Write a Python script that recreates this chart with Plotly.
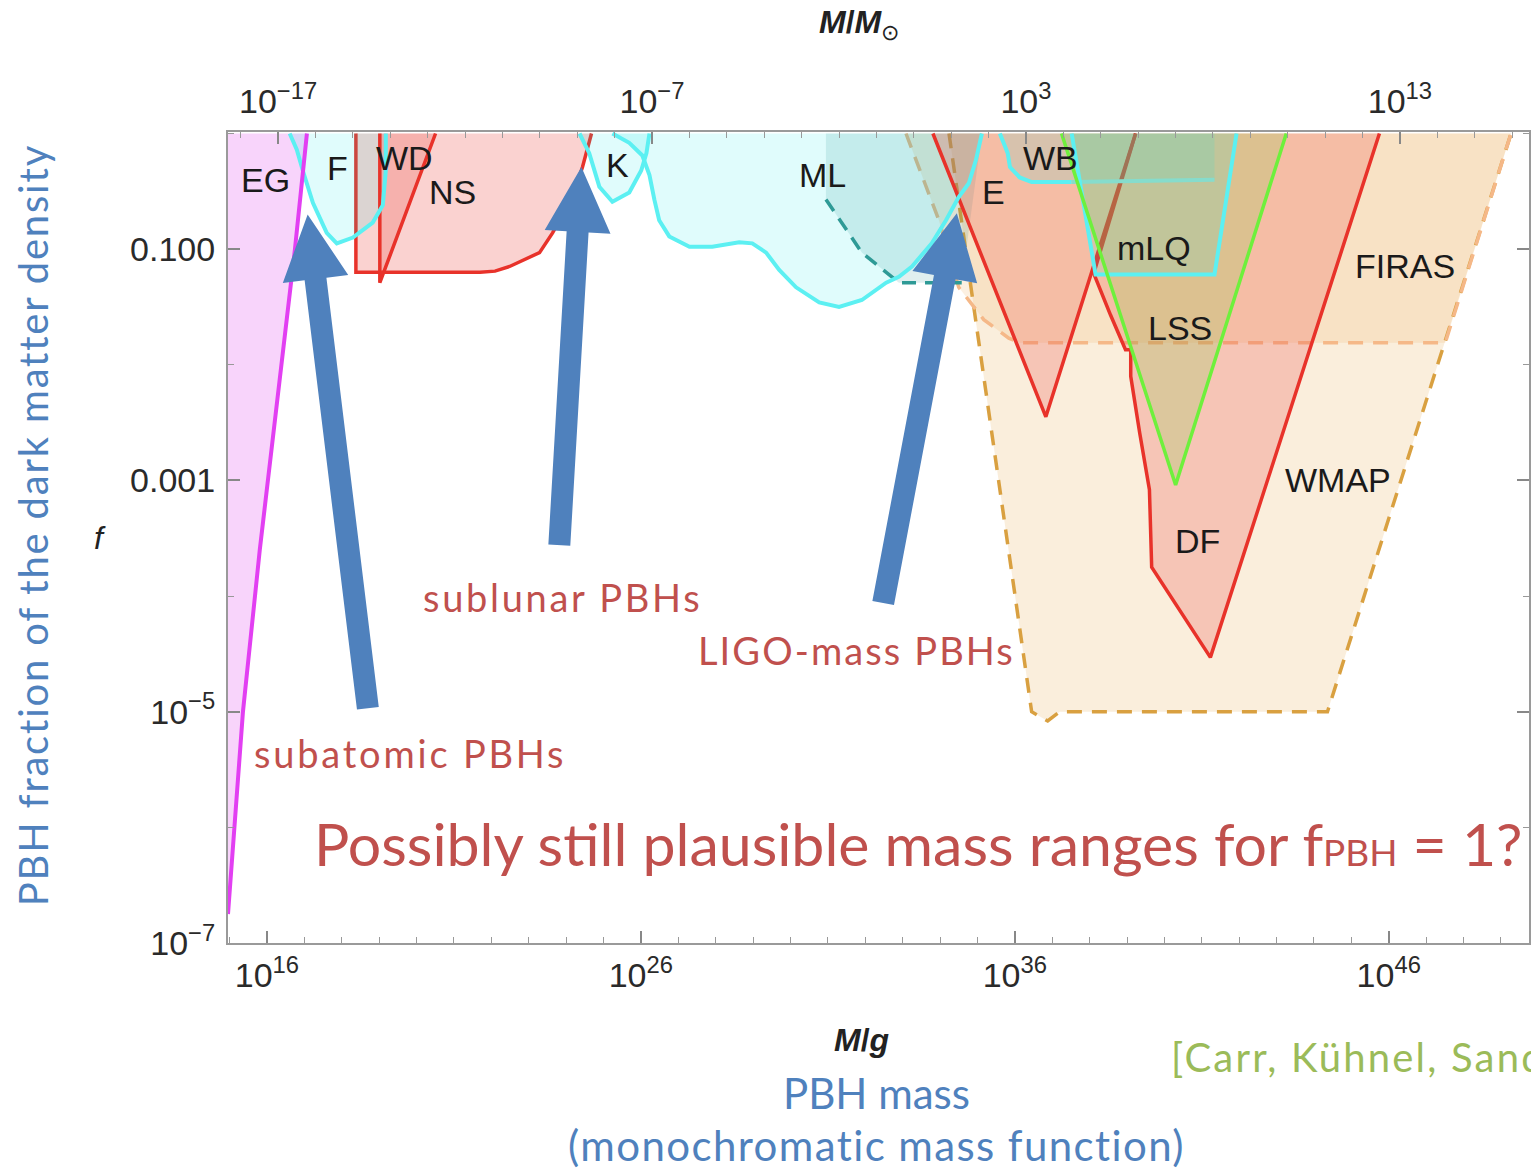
import numpy as np
import plotly.graph_objects as go

LOG_MSUN = 33.2986  # log10(M_sun / g)

# ---------------- axis set-up (log10 units) ----------------
X_RANGE = [14.96, 49.75]
Y_RANGE = [-7.0, 0.013]
xg_major = [16, 26, 36, 46]
xsun_major = [-17, -7, 3, 13]
y_major = [-1, -3, -5, -7]
y_major_text = ["0.100", "0.001", "10<sup>−5</sup>", "10<sup>−7</sup>"]

# ---------------- constraint boundaries: log10(M/g), log10(f) ----------------
eg_x = [14.96, 15.17, 15.36, 15.81, 16.29, 16.75, 17.07]
eg_y = [-6.75, -5.86, -5.00, -3.60, -2.30, -1.00, 0.00]

f_x = [16.61, 16.80, 16.96, 17.23, 17.60, 17.87, 18.30, 18.83, 19.10, 19.18, 19.18]
f_y = [0.00, -0.14, -0.32, -0.60, -0.86, -0.95, -0.90, -0.77, -0.62, -0.32, 0.00]

ns_x = [18.38, 18.38, 21.70, 22.10, 22.49, 23.29, 23.64, 24.17, 24.44, 24.68]
ns_y = [0.00, -1.20, -1.20, -1.19, -1.15, -1.03, -0.86, -0.55, -0.29, 0.00]

wd_x = [19.02, 19.02, 20.51]
wd_y = [0.00, -1.29, 0.00]

k_x = [24.36, 24.62, 24.89, 25.24, 25.69, 26.01, 26.15, 26.23]
k_y = [0.00, -0.17, -0.46, -0.59, -0.51, -0.32, -0.17, 0.00]

ml_x = [25.24, 25.69, 26.04, 26.23, 26.36, 26.49, 26.76, 27.30, 27.91, 28.63, 28.98, 29.35, 29.70,
        30.15, 30.77, 31.30, 31.91, 32.56, 32.90, 33.25, 33.78, 34.16, 34.50, 34.77, 34.96, 35.12]
ml_y = [0.00, -0.08, -0.19, -0.36, -0.57, -0.75, -0.89, -0.98, -0.98, -0.94, -0.95, -1.03, -1.18,
        -1.33, -1.46, -1.50, -1.44, -1.29, -1.24, -1.15, -0.95, -0.75, -0.55, -0.43, -0.23, 0.00]

mlt_x = [30.95, 30.95, 31.91, 32.90, 34.58, 35.12]
mlt_y = [0.00, -0.57, -1.03, -1.29, -1.29, 0.00]

wmap_x = [34.24, 36.45, 36.88, 37.20, 44.36, 49.27]
wmap_y = [0.00, -5.00, -5.08, -5.00, -5.00, 0.00]

firas_x = [33.09, 33.97, 34.50, 35.17, 35.84, 36.13, 47.51, 49.27]
firas_y = [0.00, -0.75, -1.33, -1.61, -1.77, -1.81, -1.81, 0.00]

e_x = [33.81, 36.83, 39.23]
e_y = [0.00, -2.45, 0.00]

df_x = [39.23, 38.11, 38.56, 38.96, 39.10, 39.10, 39.34, 39.60, 39.66, 41.23, 45.75]
df_y = [0.00, -1.21, -1.57, -1.87, -1.87, -2.10, -2.59, -3.08, -3.75, -4.53, 0.00]

lss_x = [37.25, 40.30, 43.26]
lss_y = [0.00, -3.04, 0.00]

wb_x = [35.60, 35.81, 35.87, 36.13, 36.45, 37.52, 41.34, 41.34]
wb_y = [0.00, -0.17, -0.29, -0.38, -0.42, -0.42, -0.40, 0.00]

mlq_x = [37.52, 38.16, 41.34, 41.93]
mlq_y = [0.00, -1.22, -1.22, 0.00]

# region labels
labels = ["EG", "F", "WD", "NS", "K", "ML", "E", "WB", "mLQ", "LSS", "FIRAS", "WMAP", "DF"]
label_x = [15.97, 17.90, 19.68, 20.97, 25.37, 30.85, 35.44, 36.96, 39.71, 40.43, 46.44, 44.65, 40.89]
label_y = [-0.40, -0.30, -0.21, -0.51, -0.27, -0.36, -0.51, -0.21, -0.99, -1.68, -1.15, -3.00, -3.52]

# highlight arrows (tail -> tip), log10 units
arrow_tail = [(18.70, -4.97), (23.82, -3.56), (32.48, -4.06)]
arrow_tip = [(17.09, -0.70), (24.41, -0.29), (34.45, -0.69)]

# ---------------- layout geometry ----------------
W, H = 1531, 1168
ML_, MR_, MT_, MB_ = 228, 0, 132, 225
PW, PH = W - ML_ - MR_, H - MT_ - MB_
KX = PW / (X_RANGE[1] - X_RANGE[0])
KY = PH / (Y_RANGE[1] - Y_RANGE[0])

RED = "#e8322a"
CYAN = "#5cf0f2"
GREEN = "#6ef03c"
MAGENTA = "#e23ff2"
GOLD = "#d9a040"
PEACH = "#f5b888"
TEAL = "#2e9a96"
BLUE = "#4f81bd"
TXTRED = "#c0504d"
TXTGREEN = "#9bbb59"

fig = go.Figure()


def P(v):
    return [10.0 ** float(a) for a in v]


def fill(xs, ys, color, close=None):
    xs = list(xs)
    ys = list(ys)
    if close is not None:
        xs.append(close[0])
        ys.append(close[1])
    fig.add_trace(go.Scatter(x=P(xs), y=P(ys), mode="lines", fill="toself", fillcolor=color,
                             line=dict(width=0, color=color), hoverinfo="skip", showlegend=False))


def line(xs, ys, color, width=3, dash=None):
    fig.add_trace(go.Scatter(x=P(xs), y=P(ys), mode="lines",
                             line=dict(width=width, color=color, dash=dash),
                             hoverinfo="skip", showlegend=False))


CYAN_FILL = "rgba(0,230,230,0.12)"
RED_FILL = "rgba(235,90,80,0.27)"

fill(wmap_x, wmap_y, "rgba(240,200,140,0.30)")
fill(firas_x, firas_y, "rgba(240,185,120,0.22)")
line(wmap_x, wmap_y, GOLD, 3.5, "15px,10px")
line(firas_x, firas_y, PEACH, 3.5, "15px,10px")
fill(eg_x, eg_y, "rgba(230,100,240,0.28)", close=(X_RANGE[0], 0.0))
fill(ns_x, ns_y, RED_FILL)
line(ns_x, ns_y, RED, 3.5)
fill(f_x, f_y, CYAN_FILL)
fill(k_x, k_y, CYAN_FILL)
fill(ml_x, ml_y, CYAN_FILL)
fill(mlt_x, mlt_y, "rgba(0,120,120,0.12)")
line(mlt_x[1:5], mlt_y[1:5], TEAL, 3.5, "14px,9px")
fill(wd_x, wd_y, RED_FILL)
fill(e_x, e_y, RED_FILL)
fill(df_x, df_y, RED_FILL)
line(e_x, e_y, RED, 3.5)
line(df_x, df_y, RED, 3.5)
fill(lss_x, lss_y, "rgba(120,210,60,0.20)")
fill(wb_x, wb_y, CYAN_FILL)
fill(mlq_x, mlq_y, CYAN_FILL)
line(wd_x, wd_y, RED, 3.5)
line(f_x, f_y, CYAN, 4)
line(k_x, k_y, CYAN, 4)
line(ml_x, ml_y, CYAN, 4)
line(wb_x[:6], wb_y[:6], CYAN, 4)
line(wb_x[5:7], wb_y[5:7], "#86dccc", 4)
line(mlq_x, mlq_y, CYAN, 4)
line(lss_x, lss_y, GREEN, 3.5)
line(eg_x, eg_y, MAGENTA, 4)


# arrows
def arrow(tail, tip, shaft=22, head_w=66, head_len=65):
    t = np.array([tail[0] * KX, tail[1] * KY])
    p = np.array([tip[0] * KX, tip[1] * KY])
    d = p - t
    d = d / np.linalg.norm(d)
    n = np.array([-d[1], d[0]])
    b = p - d * head_len
    pts = [t + n * shaft / 2, b + n * shaft / 2, b + n * head_w / 2, p,
           b - n * head_w / 2, b - n * shaft / 2, t - n * shaft / 2, t + n * shaft / 2]
    xs = [q[0] / KX for q in pts]
    ys = [q[1] / KY for q in pts]
    fig.add_trace(go.Scatter(x=P(xs), y=P(ys), mode="lines", fill="toself", fillcolor=BLUE,
                             line=dict(width=0, color=BLUE), hoverinfo="skip", showlegend=False))


for a, b in zip(arrow_tail, arrow_tip):
    arrow(a, b)

# dummy trace for the top axis
fig.add_trace(go.Scatter(x=[10.0 ** xsun_major[0]], y=[1e-3], xaxis="x2", mode="markers",
                         marker=dict(opacity=0), hoverinfo="skip", showlegend=False))

annots = []
for t, x, y in zip(labels, label_x, label_y):
    annots.append(dict(text=t, x=x, y=y, xref="x", yref="y", showarrow=False,
                       font=dict(family="Liberation Sans", size=34, color="#1a1a1a")))

AX_FONT = dict(family="Liberation Sans", size=34, color="#2a2a2a")


def paper(px, py):
    return (px - ML_) / PW, (H - MB_ - py) / PH


def ptext(text, px, py, size, color, family="Lato", xanchor="center", angle=0, spacing=None):
    x, y = paper(px, py)
    if spacing is not None:
        text = "<span style='letter-spacing:%.1fpx'>%s</span>" % (spacing, text)
    annots.append(dict(text=text, x=x, y=y, xref="paper", yref="paper", showarrow=False,
                       xanchor=xanchor, yanchor="middle", textangle=angle,
                       font=dict(family=family, size=size, color=color)))


ptext("<i>f</i>", 100, 538, 32, "#222222", "Liberation Sans")
ptext("<b><i>M</i>/<i>g</i></b>", 862, 1040, 32, "#222222", "Liberation Sans")
ptext("<b><i>M</i>/<i>M</i></b><sub>⊙</sub>", 860, 24, 32, "#222222", "Liberation Sans")
ptext("PBH fraction of the dark matter density", 33, 525, 40, BLUE, angle=-90, spacing=1.8)
ptext("PBH mass", 877, 1093, 42, BLUE)
ptext("(monochromatic mass function)", 877, 1145, 42, BLUE, spacing=1.4)
ptext("subatomic PBHs", 410, 753, 38, TXTRED, spacing=2.8)
ptext("sublunar PBHs", 563, 597, 38, TXTRED, spacing=2.7)
ptext("LIGO-mass PBHs", 857, 650, 38, TXTRED, spacing=2.1)
ptext("Possibly still plausible mass ranges for f<span style='font-size:37px'>PBH</span> = 1?",
      920, 843, 59, TXTRED)
ptext("[Carr, Kühnel, Sandstad 2016]", 1170, 1057, 40, TXTGREEN, xanchor="left", spacing=2.2)


def tv(vals):
    return [10.0 ** v for v in vals]


fig.update_layout(
    width=W, height=H,
    margin=dict(l=ML_, r=MR_, t=MT_, b=MB_),
    paper_bgcolor="white", plot_bgcolor="white",
    showlegend=False,
    annotations=annots,
    xaxis=dict(type="log", range=X_RANGE, tickvals=tv(xg_major),
               ticktext=["10<sup>%d</sup>" % v for v in xg_major],
               ticks="inside", ticklen=12, tickwidth=1.5, tickcolor="#888888",
               minor=dict(tickvals=tv(range(15, 50)), ticks="inside",
                          ticklen=6, tickcolor="#999999", tickwidth=1.2),
               showline=True, linecolor="#9a9a9a", linewidth=2, mirror=False,
               showgrid=False, zeroline=False, tickfont=AX_FONT, ticklabelstandoff=1),
    xaxis2=dict(type="log", overlaying="x", side="top",
                range=[X_RANGE[0] - LOG_MSUN, X_RANGE[1] - LOG_MSUN],
                tickvals=tv(xsun_major),
                ticktext=["10<sup>%s</sup>" % (str(v).replace("-", "−")) for v in xsun_major],
                ticks="inside", ticklen=12, tickwidth=1.5, tickcolor="#888888",
                minor=dict(tickvals=tv(range(-19, 17)), ticks="inside",
                           ticklen=6, tickcolor="#999999", tickwidth=1.2),
                showline=True, linecolor="#9a9a9a", linewidth=2,
                showgrid=False, zeroline=False, tickfont=AX_FONT, ticklabelstandoff=3),
    yaxis=dict(type="log", range=Y_RANGE, tickvals=tv(y_major),
               ticktext=y_major_text,
               ticks="inside", ticklen=12, tickwidth=1.5, tickcolor="#888888",
               minor=dict(tickvals=tv(range(-7, 1)), ticks="inside",
                          ticklen=6, tickcolor="#999999", tickwidth=1.2),
               showline=True, linecolor="#9a9a9a", linewidth=2, mirror="ticks",
               showgrid=False, zeroline=False, tickfont=AX_FONT, ticklabelstandoff=4),
)

fig.write_html("out.html")
